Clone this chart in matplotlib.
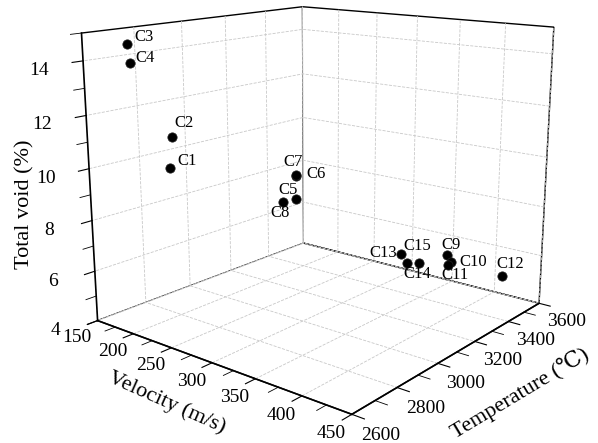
import matplotlib
matplotlib.use("Agg")
import matplotlib.pyplot as plt
from matplotlib.ticker import MultipleLocator, NullLocator
from mpl_toolkits.mplot3d import proj3d

plt.rcParams['font.family'] = ['Liberation Serif', 'DejaVu Serif']

# samples
names = ['C1', 'C2', 'C3', 'C4', 'C5', 'C6', 'C7', 'C8',
         'C9', 'C10', 'C11', 'C12', 'C13', 'C14', 'C15']
velocity = [206, 208, 166, 173, 298, 281, 285, 279,
            407, 411, 410, 431, 375, 381, 389]
temperature = [2755, 2760, 2726, 2713, 2981, 3047, 3031, 2993,
               3261, 3262, 3252, 3460, 3171, 3173, 3197]
void = [10.0, 11.2, 14.5, 13.85, 8.9, 9.5, 9.6, 8.6,
        6.75, 6.5, 6.4, 5.45, 6.8, 6.5, 6.5]

vel_ticks = [150, 200, 250, 300, 350, 400, 450]
temp_ticks = [2600, 2800, 3000, 3200, 3400, 3600]
void_ticks = [4, 6, 8, 10, 12, 14]

# label offsets in pixels (dx right, dy down) and alignment
label_pos = {
    'C1': (7, -7, 'left'), 'C2': (3, -14, 'left'), 'C3': (7, -7, 'left'),
    'C4': (5, -5, 'left'), 'C5': (-8, -9, 'center'), 'C6': (10, -2, 'left'),
    'C7': (-3, -13, 'center'), 'C8': (-3, 11, 'center'), 'C9': (4, -10, 'center'),
    'C10': (8, 0, 'left'), 'C11': (7, 10, 'center'), 'C12': (8, -12, 'center'),
    'C13': (-4, -1, 'right'), 'C14': (10, 11, 'center'), 'C15': (-2, -17, 'center'),
}


def major_grid_only(axis):
    # 3d axes draw grid lines at minor ticks too; hide them while the grid is drawn
    orig = axis.draw_grid

    def draw_grid(renderer):
        loc = axis.get_minor_locator()
        axis.minor.locator = NullLocator()
        orig(renderer)
        axis.minor.locator = loc
    axis.draw_grid = draw_grid


fig = plt.figure(figsize=(5.98, 4.43), dpi=100)
ax = fig.add_axes([0.03, 0.09, 1.0, 1.0], projection='3d')
ax.view_init(elev=14.5, azim=-51)
ax.set_proj_type('persp', focal_length=0.45)
ax.set_box_aspect((1.06, 1.06, 0.95), zoom=1.19)

ax.set_xlim(150, 450)
ax.set_ylim(2600, 3600)
ax.set_zlim(4, 15)
ax.set_xticks(vel_ticks)
ax.set_yticks(temp_ticks)
ax.set_zticks(void_ticks)
ax.xaxis.set_minor_locator(MultipleLocator(25))
ax.yaxis.set_minor_locator(MultipleLocator(100))
ax.zaxis.set_minor_locator(MultipleLocator(1))

for axis in (ax.xaxis, ax.yaxis, ax.zaxis):
    axis.set_pane_color((1, 1, 1, 1))
    axis.pane.set_edgecolor('black')
    axis.pane.set_linewidth(1.0)
    axis.line.set_color('black')
    axis.line.set_linewidth(1.2)
    axis._axinfo['grid'].update(color='#c8c8c8', linestyle='--', linewidth=0.6)
    axis._axinfo['tick']['inward_factor'] = 0.5
    axis._axinfo['tick']['outward_factor'] = 0.0
    major_grid_only(axis)

ax.zaxis.set_ticks_position('lower')
ax.tick_params(labelsize=14)
ax.xaxis.set_tick_params(pad=-4)
ax.yaxis.set_tick_params(pad=-3)
ax.zaxis.set_tick_params(pad=7)
for lab in ax.xaxis.get_ticklabels():
    lab.set_ha('right')
for lab in ax.yaxis.get_ticklabels():
    lab.set_ha('left')

ax.scatter(velocity, temperature, void, c='black', s=45, depthshade=False,
           edgecolors='#222222', linewidths=0.5)

proj = ax.get_proj()
for n, v, t, z in zip(names, velocity, temperature, void):
    x2, y2, _ = proj3d.proj_transform(v, t, z, proj)
    dx, dy, ha = label_pos[n]
    ax.annotate(n, (x2, y2), xytext=(dx, -dy), textcoords='offset pixels',
                ha=ha, va='center', fontsize=12)

# axis titles placed like the original figure
fig.text(0.042, 0.54, 'Total void (%)', rotation=90, fontsize=16,
         ha='center', va='center')
fig.text(0.279, 0.09, 'Velocity (m/s)', rotation=-24, fontsize=16,
         ha='center', va='center')
fig.text(0.87, 0.113, 'Temperature (℃)', rotation=31, fontsize=16,
         ha='center', va='center')

fig.savefig('out.png', dpi=100)
